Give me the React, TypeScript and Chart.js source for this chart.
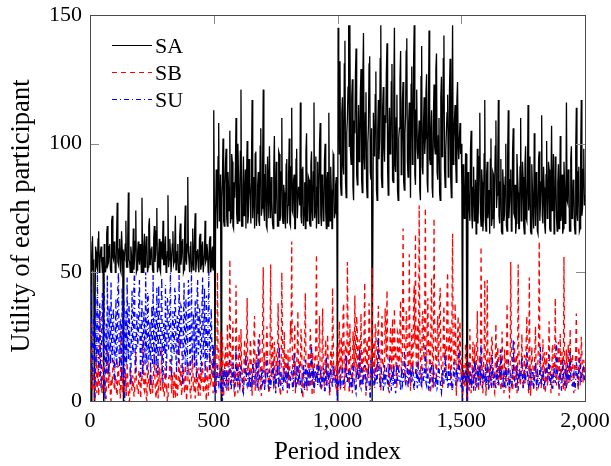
import React, { useEffect, useRef } from "react";
import { Chart, registerables } from "chart.js";

Chart.register(...registerables);

// ---------------- data (one value every 2.5 periods) ----------------
const PERIOD_STEP = 2.5;

const SA = [
  62, 58, 0, 55, 64, 51, 55, 0, 0, 60, 58, 52, 51, 63, 66, 50, 53, 58, 60, 54,
  50, 56, 0, 61, 57, 50, 52, 65, 68, 53, 54, 60, 61, 51, 50, 70, 72, 56, 55, 62,
  58, 50, 51, 64, 77, 54, 53, 59, 63, 51, 50, 66, 59, 50, 0, 57, 56, 61, 70, 52,
  52, 63, 81, 55, 54, 50, 60, 57, 50, 53, 67, 51, 55, 62, 74, 50, 51, 58, 62, 55,
  53, 61, 58, 50, 79, 56, 50, 60, 65, 52, 56, 64, 61, 50, 52, 68, 71, 53, 54, 59,
  60, 51, 50, 63, 68, 54, 57, 66, 75, 50, 52, 57, 63, 51, 50, 62, 59, 55, 70, 53,
  53, 60, 64, 50, 51, 58, 80, 52, 55, 63, 58, 50, 50, 61, 66, 53, 54, 60, 72, 51,
  52, 58, 61, 50, 50, 64, 69, 53, 56, 62, 63, 50, 51, 67, 76, 55, 53, 61, 87, 58,
  55, 50, 60, 62, 50, 54, 67, 51, 52, 65, 73, 50, 54, 58, 59, 52, 50, 63, 65, 51,
  53, 60, 62, 50, 50, 57, 70, 54, 55, 61, 58, 50, 51, 62, 64, 50, 52, 58, 60, 51,
  113, 76, 0, 72, 90, 81, 67, 95, 108, 70, 75, 88, 0, 79, 86, 102, 70, 68, 84, 93,
  98, 71, 68, 89, 82, 74, 105, 69, 71, 96, 93, 68, 67, 85, 79, 91, 110, 73, 69, 100,
  88, 70, 74, 97, 121, 68, 68, 83, 95, 72, 77, 90, 67, 86, 101, 69, 72, 94, 85, 78,
  69, 92, 117, 71, 80, 87, 67, 96, 97, 68, 73, 84, 89, 70, 68, 99, 106, 72, 75, 91,
  121, 74, 70, 88, 92, 68, 67, 95, 84, 71, 99, 80, 71, 87, 78, 69, 67, 90, 103, 73,
  74, 93, 87, 68, 68, 97, 96, 70, 72, 89, 110, 71, 69, 84, 81, 72, 67, 92, 94, 69,
  76, 88, 102, 69, 68, 91, 114, 74, 73, 86, 88, 67, 67, 94, 98, 71, 71, 83, 83, 76,
  116, 72, 69, 90, 91, 68, 75, 85, 67, 97, 104, 70, 72, 87, 86, 69, 68, 92, 97, 74,
  70, 89, 116, 71, 74, 95, 67, 83, 93, 69, 79, 100, 108, 72, 68, 88, 85, 70, 71, 94,
  100, 73, 67, 86, 89, 68, 112, 77, 70, 91, 82, 67, 67, 96, 95, 71, 73, 84, 87, 69,
  0, 145, 128, 96, 132, 84, 80, 112, 118, 92, 88, 131, 140, 85, 79, 104, 110, 122, 146, 99,
  146, 97, 92, 118, 125, 83, 78, 109, 104, 127, 137, 88, 84, 101, 115, 93, 98, 120, 129, 86,
  81, 126, 143, 95, 90, 112, 120, 84, 79, 100, 107, 131, 134, 89, 86, 106, 0, 0, 112, 97,
  95, 119, 128, 82, 78, 105, 117, 94, 101, 133, 146, 87, 83, 114, 122, 99, 93, 111, 108, 128,
  139, 90, 80, 103, 114, 96, 97, 124, 131, 86, 85, 121, 145, 92, 89, 110, 119, 82, 78, 102,
  106, 125, 136, 88, 91, 117, 124, 85, 82, 104, 111, 136, 141, 93, 87, 108, 116, 97, 79, 123,
  130, 92, 99, 132, 146, 88, 84, 113, 121, 98, 94, 102, 109, 82, 78, 126, 138, 91, 88, 107,
  118, 96, 102, 120, 127, 85, 81, 115, 144, 94, 92, 105, 113, 83, 79, 110, 123, 99, 96, 129,
  135, 89, 86, 103, 110, 81, 78, 118, 126, 95, 98, 133, 142, 90, 83, 97, 105, 112, 119, 87,
  90, 121, 133, 86, 79, 114, 146, 92, 101, 109, 115, 93, 85, 117, 124, 99, 94, 102, 108, 96,
  100, 84, 0, 92, 88, 71, 75, 96, 96, 0, 0, 89, 82, 74, 70, 98, 105, 72, 67, 83,
  91, 70, 74, 86, 65, 78, 98, 69, 78, 95, 112, 73, 68, 90, 85, 66, 72, 96, 117, 70,
  66, 88, 93, 71, 76, 82, 65, 94, 102, 68, 71, 89, 88, 67, 67, 99, 109, 75, 80, 92,
  117, 72, 69, 85, 94, 66, 65, 90, 84, 70, 73, 87, 100, 68, 66, 95, 113, 71, 77, 86,
  90, 66, 68, 97, 106, 73, 72, 84, 65, 69, 96, 88, 81, 67, 67, 91, 110, 70, 74, 93,
  87, 68, 65, 92, 99, 71, 70, 86, 115, 74, 78, 95, 66, 65, 92, 83, 73, 67, 104, 80,
  68, 89, 86, 66, 65, 94, 97, 70, 76, 85, 111, 72, 69, 91, 83, 68, 65, 88, 101, 71,
  72, 93, 90, 67, 66, 84, 107, 74, 79, 96, 65, 69, 95, 87, 71, 66, 85, 92, 67, 75,
  103, 70, 74, 88, 65, 67, 93, 84, 69, 72, 116, 78, 77, 90, 88, 66, 66, 94, 99, 71,
  72, 86, 84, 68, 65, 97, 114, 73, 70, 89, 91, 66, 67, 95, 117, 72, 75, 90, 98, 76,
  80,
];

const SB = [
  12, 5, 30, 8, 4, 13, 9, 2, 0, 11, 18, 3, 6, 14, 2, 7, 35, 10, 10, 4,
  3, 16, 14, 6, 7, 1, 1, 12, 22, 8, 5, 15, 11, 2, 0, 9, 8, 13, 16, 5,
  4, 10, 9, 3, 2, 14, 13, 7, 6, 1, 28, 9, 3, 12, 10, 5, 1, 11, 7, 2,
  15, 8, 5, 0, 0, 13, 11, 6, 4, 10, 8, 2, 2, 14, 19, 7, 6, 3, 3, 12,
  12, 4, 1, 9, 7, 15, 24, 5, 4, 11, 9, 1, 0, 13, 14, 6, 5, 10, 2, 8,
  10, 3, 6, 12, 17, 8, 3, 1, 8, 14, 1, 5, 13, 9, 4, 11, 21, 6, 7, 2,
  2, 13, 11, 4, 5, 0, 0, 9, 9, 16, 16, 7, 3, 10, 6, 1, 12, 8, 1, 11,
  8, 2, 4, 12, 26, 6, 7, 14, 2, 5, 10, 13, 5, 3, 14, 9, 0, 4, 6, 15,
  11, 7, 3, 1, 8, 13, 18, 4, 4, 10, 1, 6, 9, 15, 6, 2, 13, 8, 2, 11,
  7, 12, 15, 3, 4, 9, 10, 5, 0, 14, 12, 2, 5, 11, 20, 7, 8, 16, 14, 3,
  8, 22, 14, 5, 3, 12, 50, 18, 20, 9, 11, 27, 6, 2, 25, 14, 2, 8, 17, 21,
  9, 4, 30, 16, 4, 11, 55, 20, 13, 7, 22, 31, 7, 12, 1, 5, 45, 19, 10, 3,
  18, 26, 5, 9, 28, 14, 12, 3, 3, 17, 24, 8, 8, 21, 40, 11, 15, 6, 6, 24,
  21, 10, 2, 15, 11, 27, 33, 4, 7, 19, 16, 9, 4, 13, 26, 18, 9, 2, 14, 29,
  52, 12, 19, 7, 6, 23, 29, 16, 11, 3, 3, 20, 53, 9, 13, 25, 8, 14, 23, 6,
  5, 18, 17, 10, 38, 21, 10, 4, 2, 13, 50, 26, 15, 7, 27, 11, 7, 19, 12, 3,
  20, 9, 4, 14, 31, 24, 62, 17, 9, 5, 18, 30, 3, 10, 14, 21, 35, 8, 6, 16,
  11, 28, 24, 6, 1, 12, 16, 23, 42, 15, 8, 4, 13, 19, 5, 10, 28, 22, 10, 2,
  19, 7, 3, 17, 15, 26, 57, 11, 7, 14, 22, 33, 12, 5, 4, 18, 36, 13, 9, 4,
  17, 24, 6, 10, 26, 15, 11, 3, 2, 19, 20, 9, 44, 27, 8, 12, 14, 6, 5, 21,
  0, 12, 18, 31, 7, 4, 25, 16, 12, 35, 38, 9, 4, 22, 20, 11, 54, 28, 9, 3,
  30, 18, 15, 6, 3, 27, 22, 13, 41, 19, 8, 33, 27, 10, 13, 24, 5, 16, 34, 12,
  19, 7, 10, 28, 46, 15, 2, 21, 24, 9, 14, 38, 31, 6, 7, 26, 52, 11, 16, 23,
  6, 30, 28, 13, 11, 20, 37, 18, 20, 5, 4, 29, 33, 14, 15, 8, 9, 36, 25, 17,
  43, 19, 12, 7, 3, 24, 29, 11, 18, 32, 8, 14, 36, 17, 21, 9, 5, 27, 26, 13,
  14, 31, 39, 12, 10, 21, 67, 30, 23, 8, 7, 35, 32, 18, 17, 6, 57, 24, 4, 15,
  28, 11, 13, 40, 45, 22, 65, 17, 9, 26, 30, 14, 76, 29, 19, 7, 6, 33, 35, 20,
  16, 37, 75, 13, 11, 28, 40, 19, 24, 10, 3, 34, 48, 22, 14, 5, 71, 31, 27, 12,
  8, 26, 33, 15, 20, 39, 44, 18, 12, 8, 5, 29, 37, 16, 22, 11, 15, 42, 50, 21,
  10, 24, 29, 7, 6, 36, 65, 20, 18, 12, 38, 27, 2, 9, 25, 33, 13, 19, 31, 14,
  9, 17, 0, 6, 14, 10, 5, 22, 20, 0, 0, 15, 11, 4, 28, 12, 3, 9, 16, 23,
  7, 13, 22, 4, 12, 20, 35, 8, 4, 14, 18, 6, 60, 25, 9, 3, 14, 19, 47, 11,
  2, 10, 47, 18, 10, 5, 19, 12, 6, 24, 25, 9, 13, 4, 3, 17, 30, 14, 8, 21,
  16, 6, 11, 20, 4, 9, 27, 13, 9, 3, 20, 15, 5, 11, 38, 22, 12, 7, 1, 10,
  54, 19, 15, 4, 7, 16, 23, 9, 10, 18, 3, 8, 53, 21, 14, 6, 8, 13, 26, 12,
  5, 11, 18, 7, 11, 24, 33, 14, 6, 3, 48, 17, 2, 10, 21, 15, 13, 4, 9, 20,
  29, 12, 4, 9, 16, 23, 62, 18, 10, 5, 7, 14, 24, 8, 12, 19, 3, 11, 19, 6,
  8, 16, 31, 10, 14, 3, 5, 20, 22, 7, 11, 15, 40, 9, 6, 12, 17, 23, 2, 13,
  26, 8, 13, 19, 9, 4, 56, 16, 4, 11, 20, 6, 15, 22, 7, 13, 28, 9, 10, 18,
  18, 5, 3, 14, 12, 20, 34, 11, 8, 4, 21, 16, 6, 10, 25, 19, 11, 7, 16, 12,
  9,
];

const SU = [
  20, 31, 45, 12, 8, 26, 33, 18, 0, 41, 27, 15, 50, 22, 12, 35, 38, 9, 5, 29,
  42, 24, 18, 47, 0, 16, 30, 11, 49, 28, 10, 37, 24, 14, 46, 21, 15, 33, 36, 19,
  7, 25, 40, 13, 22, 44, 50, 17, 13, 32, 31, 8, 44, 26, 9, 39, 0, 20, 35, 14,
  48, 23, 16, 38, 28, 12, 6, 30, 43, 18, 20, 46, 50, 15, 11, 27, 34, 21, 25, 41,
  47, 19, 8, 29, 39, 10, 17, 35, 29, 14, 50, 24, 12, 42, 41, 16, 21, 31, 6, 26,
  37, 13, 49, 22, 14, 36, 26, 11, 44, 28, 10, 45, 33, 17, 19, 38, 48, 12, 7, 30,
  30, 18, 45, 9, 15, 40, 38, 20, 23, 35, 50, 14, 9, 27, 35, 22, 18, 44, 42, 16,
  11, 33, 27, 15, 49, 24, 20, 37, 36, 12, 6, 29, 46, 19, 14, 40, 31, 10, 24, 47,
  43, 21, 10, 30, 50, 16, 17, 34, 28, 13, 39, 25, 8, 42, 47, 18, 21, 36, 33, 11,
  13, 38, 48, 17, 26, 44, 9, 23, 41, 15, 19, 34, 50, 12, 15, 29, 36, 20, 22, 10,
  22, 13, 0, 5, 9, 11, 14, 7, 6, 10, 11, 4, 4, 8, 0, 12, 8, 6, 13, 9,
  5, 12, 10, 6, 7, 14, 16, 9, 4, 7, 9, 15, 12, 5, 6, 11, 20, 8, 8, 13,
  11, 6, 5, 9, 14, 12, 7, 4, 3, 8, 10, 13, 18, 7, 6, 11, 9, 5, 12, 10,
  4, 9, 8, 14, 15, 6, 7, 10, 11, 16, 5, 8, 24, 12, 9, 5, 6, 10, 13, 7,
  8, 12, 4, 7, 10, 13, 17, 9, 6, 4, 12, 10, 5, 8, 9, 13, 14, 6, 7, 11,
  3, 7, 11, 14, 8, 5, 21, 12, 6, 9, 10, 6, 4, 11, 13, 8, 7, 12, 9, 5,
  15, 9, 5, 7, 8, 12, 12, 6, 4, 11, 19, 13, 7, 5, 10, 14, 6, 9, 14, 8,
  9, 5, 3, 10, 11, 14, 7, 4, 16, 9, 5, 12, 8, 6, 13, 10, 6, 15, 22, 11,
  8, 13, 4, 6, 12, 7, 9, 14, 6, 10, 15, 8, 5, 12, 10, 6, 7, 13, 11, 4,
  4, 10, 17, 6, 8, 12, 6, 5, 13, 11, 9, 7, 5, 14, 12, 8, 7, 10, 10, 6,
  0, 8, 6, 12, 11, 5, 8, 10, 14, 6, 5, 9, 9, 13, 18, 7, 7, 11, 12, 9,
  4, 11, 10, 5, 6, 13, 15, 7, 8, 4, 3, 10, 13, 8, 9, 15, 20, 6, 5, 12,
  11, 6, 7, 12, 14, 9, 6, 4, 9, 11, 12, 7, 4, 0, 16, 10, 8, 13, 10, 6,
  5, 9, 13, 7, 7, 14, 25, 11, 9, 5, 6, 12, 11, 8, 4, 10, 14, 7, 8, 13,
  10, 6, 5, 12, 17, 9, 7, 4, 12, 10, 6, 14, 9, 5, 3, 11, 15, 8, 8, 12,
  11, 7, 4, 9, 13, 6, 7, 11, 19, 12, 6, 8, 10, 14, 5, 7, 12, 9, 9, 13,
  7, 10, 14, 6, 4, 9, 11, 13, 8, 5, 16, 10, 6, 12, 10, 7, 5, 11, 13, 8,
  8, 14, 21, 7, 6, 11, 12, 5, 4, 8, 9, 13, 15, 6, 7, 12, 11, 9, 5, 10,
  10, 5, 6, 13, 14, 9, 8, 4, 3, 11, 12, 7, 7, 14, 18, 8, 9, 12, 5, 6,
  13, 8, 6, 11, 10, 5, 4, 9, 15, 12, 8, 6, 11, 13, 7, 9, 20, 14, 9, 5,
  5, 10, 0, 7, 12, 9, 7, 11, 10, 0, 0, 13, 14, 8, 6, 10, 9, 5, 11, 12,
  4, 9, 16, 12, 8, 5, 13, 10, 6, 14, 10, 7, 22, 11, 5, 8, 12, 9, 7, 13,
  9, 6, 15, 11, 4, 8, 11, 14, 8, 5, 18, 12, 6, 9, 10, 7, 5, 13, 14, 6,
  7, 11, 12, 9, 20, 14, 6, 5, 9, 12, 4, 8, 13, 10, 8, 6, 16, 11, 5, 9,
  11, 6, 7, 10, 24, 13, 9, 5, 6, 11, 14, 8, 4, 12, 10, 9, 8, 14, 17, 7,
  5, 9, 12, 7, 7, 13, 19, 10, 9, 6, 4, 12, 13, 8, 6, 11, 11, 5, 8, 10,
  15, 8, 5, 11, 10, 6, 7, 13, 21, 9, 6, 10, 12, 7, 4, 8, 9, 14, 14, 11,
  8, 12, 18, 7, 6, 10, 11, 5, 5, 13, 13, 9, 7, 11, 23, 12, 9, 7, 6, 10,
  12, 7, 4, 9, 16, 11, 8, 6, 10, 13, 5, 9, 14, 8, 7, 12, 19, 10, 9, 6,
  6, 10, 11, 5, 4, 9, 15, 12, 8, 6, 12, 14, 17, 9, 7, 11, 10, 13, 13, 8,
  9,
];

const SERIES_NAMES = ["SA", "SB", "SU"];
const X_TICKS = [0, 500, 1000, 1500, 2000];
const Y_TICKS = [0, 50, 100, 150];
const X_TITLE = "Period index";
const Y_TITLE = "Utility of each participant";

// ---------------- styling ----------------
const FONT_FAMILY = "'Liberation Serif', 'Times New Roman', serif";
const TICK_FONT_SIZE = 22;
const X_TITLE_FONT_SIZE = 25;
const Y_TITLE_FONT_SIZE = 26.5;
const LEGEND_FONT_SIZE = 22;

const STYLES = [
  { color: "#000000", dash: [] as number[], width: 1.3 },
  { color: "#ff0000", dash: [5, 4], width: 1.3 },
  { color: "#0000ff", dash: [5, 3, 1, 3], width: 1.3 },
];

const toPoints = (vals: number[]) => vals.map((v, i) => ({ x: i * PERIOD_STEP, y: v }));

const decorPlugin = {
  id: "decor",
  afterDatasetsDraw(chart: any) {
    const { ctx, chartArea, scales } = chart;
    const { left, right, top, bottom } = chartArea;
    const xs = scales.x;
    const ys = scales.y;
    ctx.save();
    // inner tick marks on all four sides
    ctx.strokeStyle = "#8a8a8a";
    ctx.lineWidth = 1;
    ctx.setLineDash([]);
    ctx.beginPath();
    const TL = 9;
    X_TICKS.forEach((v) => {
      const px = Math.round(xs.getPixelForValue(v)) + 0.5;
      ctx.moveTo(px, bottom);
      ctx.lineTo(px, bottom - TL);
      ctx.moveTo(px, top);
      ctx.lineTo(px, top + TL);
    });
    Y_TICKS.forEach((v) => {
      const py = Math.round(ys.getPixelForValue(v)) + 0.5;
      ctx.moveTo(left, py);
      ctx.lineTo(left + TL, py);
      ctx.moveTo(right, py);
      ctx.lineTo(right - TL, py);
    });
    ctx.stroke();
    // frame
    ctx.strokeStyle = "#4a4a4a";
    ctx.lineWidth = 1;
    ctx.strokeRect(left + 0.5, top + 0.5, right - left, bottom - top);

    // axis titles
    ctx.fillStyle = "#000";
    ctx.textAlign = "center";
    ctx.textBaseline = "alphabetic";
    ctx.font = `${X_TITLE_FONT_SIZE}px ${FONT_FAMILY}`;
    ctx.fillText(X_TITLE, (left + right) / 2, 459);
    ctx.save();
    ctx.font = `${Y_TITLE_FONT_SIZE}px ${FONT_FAMILY}`;
    ctx.translate(29, 216);
    ctx.rotate(-Math.PI / 2);
    ctx.fillText(Y_TITLE, 0, 0);
    ctx.restore();

    // legend (inside plot, top-left)
    ctx.font = `${LEGEND_FONT_SIZE}px ${FONT_FAMILY}`;
    ctx.textAlign = "left";
    SERIES_NAMES.forEach((name, i) => {
      const yy = 45 + i * 27.2;
      ctx.strokeStyle = STYLES[i].color;
      ctx.lineWidth = 1;
      ctx.setLineDash(STYLES[i].dash);
      ctx.beginPath();
      ctx.moveTo(112, Math.round(yy) + 0.5);
      ctx.lineTo(152, Math.round(yy) + 0.5);
      ctx.stroke();
      ctx.setLineDash([]);
      ctx.fillStyle = "#000";
      ctx.fillText(name, 155, yy + 8);
    });
    ctx.restore();
  },
};

export default function App() {
  const canvasRef = useRef<HTMLCanvasElement | null>(null);

  useEffect(() => {
    const canvas = canvasRef.current;
    if (!canvas) return;
    const seriesValues = [SA, SB, SU];
    const chart = new Chart(canvas, {
      type: "line",
      data: {
        datasets: SERIES_NAMES.map((name, i) => ({
          label: name,
          data: toPoints(seriesValues[i]),
          borderColor: STYLES[i].color,
          backgroundColor: STYLES[i].color,
          borderDash: STYLES[i].dash,
          borderWidth: STYLES[i].width,
          pointRadius: 0,
          tension: 0,
          fill: false,
          order: 3 - i,
        })),
      },
      options: {
        animation: false,
        responsive: false,
        devicePixelRatio: 1,
        layout: { padding: { left: 0, right: 26, top: 15, bottom: 0 } },
        plugins: {
          legend: { display: false },
          tooltip: { enabled: false },
        },
        scales: {
          x: {
            type: "linear",
            min: 0,
            max: 2000,
            afterFit: (s: any) => {
              s.height = 65;
              s.paddingLeft = 0;
              s.paddingRight = 0;
            },
            afterBuildTicks: (s: any) => {
              s.ticks = X_TICKS.map((v) => ({ value: v }));
            },
            grid: { display: false, drawTicks: false },
            border: { display: false },
            ticks: {
              color: "#000",
              padding: 7,
              maxRotation: 0,
              autoSkip: false,
              font: { family: FONT_FAMILY, size: TICK_FONT_SIZE },
              callback: (v: any) => Number(v).toLocaleString("en-US"),
            },
          },
          y: {
            min: 0,
            max: 150,
            afterFit: (s: any) => {
              s.width = 90;
              s.paddingTop = 0;
              s.paddingBottom = 0;
            },
            afterBuildTicks: (s: any) => {
              s.ticks = Y_TICKS.map((v) => ({ value: v }));
            },
            grid: { display: false, drawTicks: false },
            border: { display: false },
            ticks: {
              color: "#000",
              padding: 8,
              autoSkip: false,
              font: { family: FONT_FAMILY, size: TICK_FONT_SIZE },
              callback: (v: any) => String(v),
            },
          },
        },
      },
      plugins: [decorPlugin],
    });
    return () => chart.destroy();
  }, []);

  return (
    <div style={{ position: "fixed", left: 0, top: 0, width: 611, height: 466, background: "#fff" }}>
      <canvas ref={canvasRef} width={611} height={466} style={{ width: 611, height: 466, display: "block" }} />
    </div>
  );
}
